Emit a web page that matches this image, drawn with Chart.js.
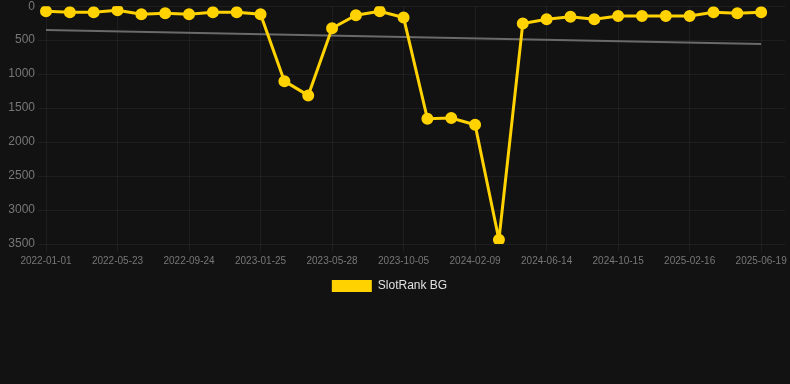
<!DOCTYPE html>
<html>
<head>
<meta charset="utf-8">
<script src="https://cdn.jsdelivr.net/npm/chart.js@4.4.1/dist/chart.umd.min.js"></script>
<style>
  html, body { margin: 0; padding: 0; background: #121212; overflow: hidden; }
  #outer { width: 790px; height: 384px; overflow: hidden; }
  #wrap { position: relative; width: 794px; height: 306px; margin-top: -4px; }
</style>
</head>
<body>
<div id="outer"><div id="wrap"><canvas id="rankchart"></canvas></div></div>
<script>
// dates of each sample (last entry is empty, it only widens the axis)
const dates = [
  "2022-01-01", "2022-02-17", "2022-04-05", "2022-05-23", "2022-07-05", "2022-08-15",
  "2022-09-24", "2022-11-08", "2022-12-20", "2023-01-25", "2023-03-10", "2023-04-18",
  "2023-05-28", "2023-07-10", "2023-08-22", "2023-10-05", "2023-11-18", "2023-12-28",
  "2024-02-09", "2024-03-25", "2024-05-01", "2024-06-14", "2024-07-28", "2024-09-02",
  "2024-10-15", "2024-11-28", "2025-01-05", "2025-02-16", "2025-03-30", "2025-05-08",
  "2025-06-19", ""
];

const slotRank = [
  74, 88, 88, 59, 118, 103, 118, 88, 88, 118,
  1103, 1313, 325, 133, 74, 167, 1657, 1647, 1745, 3437,
  256, 192, 157, 192, 143, 143, 143, 143, 88, 103,
  88, null
];

// trend line, only its two ends are known
const trend = [350];
trend[30] = 556;
trend[31] = null;

const yTicks = [0, 500, 1000, 1500, 2000, 2500, 3000, 3500];

Chart.defaults.font.family = "'Liberation Sans', Arial, sans-serif";

// nudge the legend a bit to the left, like the original
const legendShift = {
  id: "legendShift",
  afterLayout(chart) {
    if (chart.legend) chart.legend.right -= 15;
  },
};

const data = {
  labels: dates,
  datasets: [
    {
      label: "SlotRank BG",
      data: slotRank,
      borderColor: "#ffd200",
      backgroundColor: "#ffd200",
      borderWidth: 3,
      pointRadius: 4.5,
      pointHoverRadius: 6,
      tension: 0,
      order: 1,
    },
    {
      label: "trend",
      data: trend,
      borderColor: "#6a6a6a",
      borderWidth: 2,
      pointRadius: 0,
      spanGaps: true,
      order: 2,
    },
  ],
};

const config = {
  type: "line",
  data: data,
  plugins: [legendShift],
  options: {
    responsive: true,
    maintainAspectRatio: false,
    animation: false,
    plugins: {
      legend: {
        position: "bottom",
        labels: {
          color: "#e0e0e0",
          font: { size: 12 },
          boxWidth: 40,
          boxHeight: 12,
          generateLabels: (chart) =>
            Chart.defaults.plugins.legend.labels
              .generateLabels(chart)
              .filter((l) => l.text !== "trend")
              .map((l) => ({ ...l, lineWidth: 0 })),
        },
      },
      tooltip: { enabled: false },
    },
    scales: {
      x: {
        offset: false,
        grid: { color: "rgba(255,255,255,0.05)" },
        border: { display: false },
        ticks: {
          color: "#777",
          font: { size: 10 },
          autoSkip: false,
          maxRotation: 0,
          callback: function (val, i) {
            return i % 3 === 0 && dates[i] ? dates[i] : null;
          },
        },
      },
      y: {
        reverse: true,
        min: 0,
        max: 3500,
        grid: { color: "rgba(255,255,255,0.05)" },
        border: { display: false },
        afterBuildTicks: (axis) => {
          axis.ticks = yTicks.map((v) => ({ value: v }));
        },
        afterFit: (s) => {
          s.width = 46;
        },
        ticks: {
          color: "#777",
          font: { size: 12 },
          callback: (v) => String(v),
        },
      },
    },
  },
};

new Chart(document.getElementById("rankchart"), config);
</script>
</body>
</html>
